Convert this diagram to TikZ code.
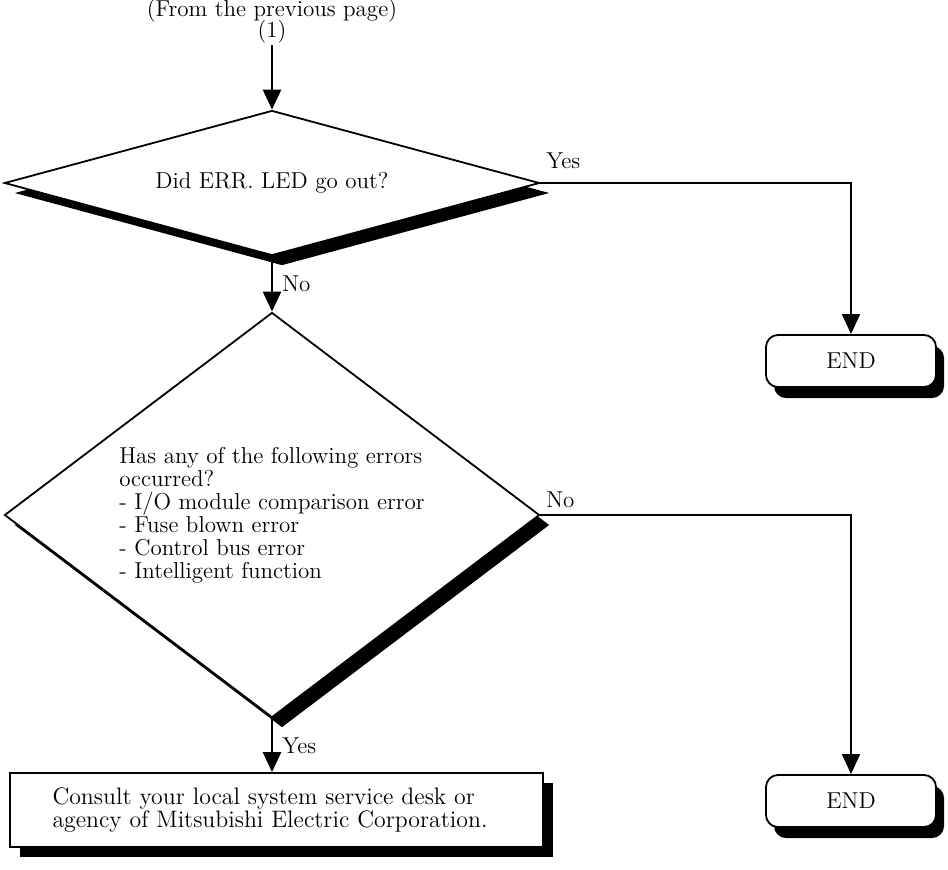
\documentclass[tikz,border=0pt]{standalone}
\usepackage{tikz}
\usetikzlibrary{shapes,arrows.meta,positioning,shadows}

\begin{document}
\begin{tikzpicture}[
    x=0.5pt, y=-0.5pt,
    txt/.style={font=\fontsize{11.5}{11.5}\selectfont},
    decision/.style={diamond, draw, line width=0.9pt, fill=white, inner sep=0pt, minimum width=267.5pt, txt,
        drop shadow={shadow xshift=5pt, shadow yshift=-5pt, fill=black, opacity=1}},
    finish/.style={rectangle, draw, rounded corners=6pt, line width=0.9pt, fill=white, minimum width=85pt, minimum height=26pt, txt,
        drop shadow={shadow xshift=4pt, shadow yshift=-5.5pt, fill=black, opacity=1}},
    action/.style={rectangle, draw, line width=0.9pt, fill=white, minimum width=266.5pt, minimum height=37pt, align=left,
        font=\fontsize{11.9}{11.5}\selectfont, text width=224pt, inner xsep=21pt,
        drop shadow={shadow xshift=5pt, shadow yshift=-5pt, fill=black, opacity=1}},
    arrow/.style={-{Triangle[length=10pt,width=9pt]}, line width=1.3pt},
    link/.style={-{Triangle[length=10pt,width=9pt]}, line width=0.9pt},
    label/.style={txt, inner sep=1.5pt}
]
\useasboundingbox (0,0) rectangle (948,869);

\node[txt, align=center, inner sep=1pt] (from) at (272,21) {(From the previous page)\\[-2pt](1)};

\node[decision, minimum height=72.5pt, aspect=3.69] (q1) at (272,183) {Did ERR. LED go out?};
\node[decision, minimum height=202.5pt, aspect=1.32, align=left] (q2) at (272,515) {Has any of the following errors\\occurred?\\- I/O module comparison error\\- Fuse blown error\\- Control bus error\\- Intelligent function};

\node[finish] (end1) at (851,361) {END};
\node[finish] (end2) at (851,801) {END};

\node[action] (act) at (276.5,810) {Consult your local system service desk or\\agency of Mitsubishi Electric Corporation.};

\draw[arrow] (from.south) -- (q1.north);
\draw[arrow] (q1.south) -- node[right, label, xshift=3pt] {No} (q2.north);
\draw[arrow] (q2.south) -- node[right, label, xshift=3pt] {Yes} (q2.south |- act.north);

\draw[link] (q1.east) -| node[anchor=south west, pos=0, label, xshift=1pt, yshift=5pt] {Yes} (end1.north);
\draw[link] (q2.east) -| node[anchor=south west, pos=0, label, xshift=1pt, yshift=1.5pt] {No} (end2.north);

\end{tikzpicture}
\end{document}
